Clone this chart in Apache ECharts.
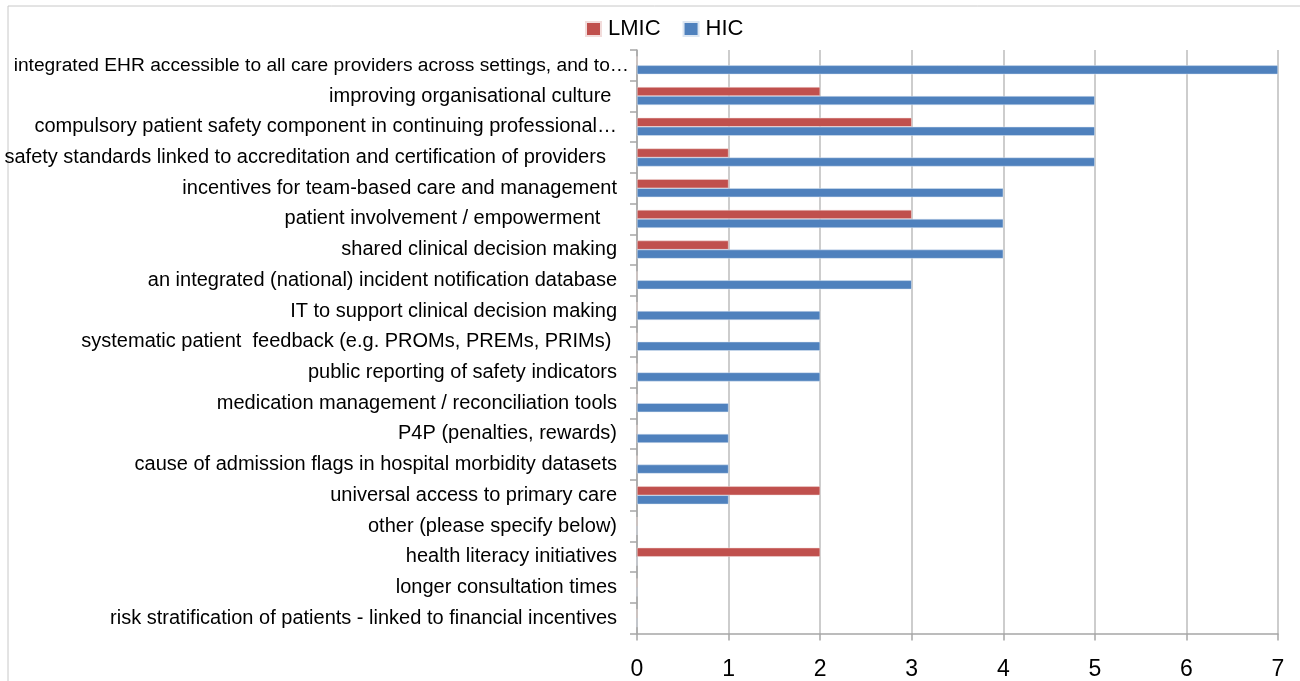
<!DOCTYPE html>
<html><head><meta charset="utf-8">
<script src="https://cdn.jsdelivr.net/npm/echarts@6/dist/echarts.min.js"></script>
<style>html,body{margin:0;padding:0;background:#fff;}#c{width:1300px;height:681px;}</style>
</head><body><div id="c"></div>
<script>
const categories = [
  "integrated EHR accessible to all care providers across settings, and to…",
  "improving organisational culture ",
  "compulsory patient safety component in continuing professional…",
  "safety standards linked to accreditation and certification of providers  ",
  "incentives for team-based care and management",
  "patient involvement / empowerment   ",
  "shared clinical decision making",
  "an integrated (national) incident notification database",
  "IT to support clinical decision making",
  "systematic patient  feedback (e.g. PROMs, PREMs, PRIMs) ",
  "public reporting of safety indicators",
  "medication management / reconciliation tools",
  "P4P (penalties, rewards)",
  "cause of admission flags in hospital morbidity datasets",
  "universal access to primary care",
  "other (please specify below)",
  "health literacy initiatives",
  "longer consultation times",
  "risk stratification of patients - linked to financial incentives"
];
const lmic = [0,2,3,1,1,3,1,0,0,0,0,0,0,0,2,0,2,0,0];
const hic  = [7,5,5,5,4,4,4,3,2,2,2,1,1,1,1,0,0,0,0];
const xTicks = [0,1,2,3,4,5,6,7];

const FONT = "'Liberation Sans',Arial,sans-serif";
// first (longest) label drawn slightly smaller and closer to the axis, as in the reference
const yData = categories.map((c, i) => i === 0 ? {value: c, textStyle: {fontSize: 19.2, padding: [0, -12, 0, 0]}} : c);

const chart = echarts.init(document.getElementById('c'), null, {renderer:'canvas'});
chart.setOption({
  animation:false,
  textStyle:{fontFamily:FONT},
  graphic:[{type:'rect',shape:{x:8,y:6,width:1400,height:800},style:{fill:'none',stroke:'#c8c8c8',lineWidth:1},silent:true,z:-10}],
  legend:{left:585,top:18,padding:0,itemWidth:15,itemHeight:14,itemGap:22,
    textStyle:{fontSize:22,color:'#000',fontFamily:FONT,padding:[0,0,0,2]},
    data:[{name:'LMIC',icon:'rect'},{name:'HIC',icon:'rect'}]},
  grid:{left:637,right:22,top:50,bottom:47.5,containLabel:false,outerBoundsMode:'none'},
  xAxis:{type:'value',min:xTicks[0],max:xTicks[xTicks.length-1],interval:1,
    axisLine:{show:true,lineStyle:{color:'#a6a6a6',width:1.5}},
    axisTick:{show:true,length:7,lineStyle:{color:'#a6a6a6',width:1.5}},
    splitLine:{show:true,lineStyle:{color:'#bdbdbd',width:1.5}},
    axisLabel:{fontSize:23,color:'#000',margin:25,fontFamily:FONT}},
  yAxis:{type:'category',inverse:true,data:yData,
    axisLine:{show:true,lineStyle:{color:'#a6a6a6',width:1.5}},
    axisTick:{show:true,length:7,lineStyle:{color:'#a6a6a6',width:1.5}},
    axisLabel:{fontSize:20,color:'#000',margin:20,fontFamily:FONT}},
  series:[
    {name:'LMIC',type:'bar',data:lmic,barWidth:9,barGap:'0%',itemStyle:{color:'#C0504D',borderColor:'#f2dcdb',borderWidth:0.5}},
    {name:'HIC',type:'bar',data:hic,barWidth:9,barGap:'0%',itemStyle:{color:'#4F81BD',borderColor:'#dce6f2',borderWidth:0.5}}
  ]
});
</script></body></html>
